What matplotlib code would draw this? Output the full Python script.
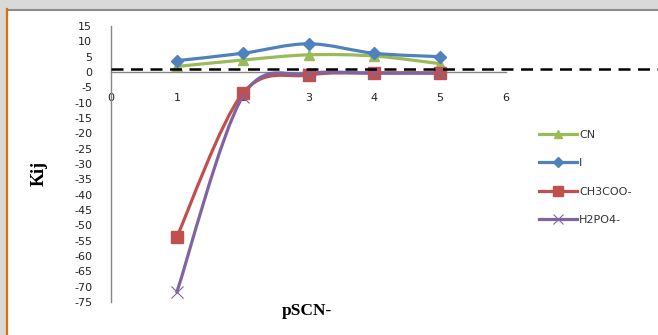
import numpy as np
import matplotlib
matplotlib.use("Agg")
import matplotlib.pyplot as plt
from matplotlib.path import Path
from matplotlib.patches import PathPatch, Rectangle
from matplotlib.lines import Line2D

# ---------------- data ----------------
x_vals = [1, 2, 3, 4, 5]
cn = [1.8, 3.9, 5.6, 5.2, 2.7]
iod = [3.7, 6.1, 9.2, 6.1, 5.0]
ch3coo = [-53.8, -7.0, -1.0, -0.3, -0.3]
h2po4 = [-71.8, -8.0, -0.6, -0.4, -0.4]
ref_level = 1.0
series_names = ["CN", "I", "CH3COO-", "H2PO4-"]
x_ticks = [0, 1, 2, 3, 4, 5, 6]
y_ticks = list(range(-75, 16, 5))

W, H = 658, 335
fig = plt.figure(figsize=(W / 100, H / 100), dpi=100)
fig.patch.set_facecolor("#d9d9d9")

# white chart area with borders
fig.add_artist(Rectangle((7 / W, 0), 1 - 7 / W, (H - 10) / H, transform=fig.transFigure,
                         facecolor="white", edgecolor="none", zorder=0))
fig.add_artist(Line2D([7 / W, 1], [(H - 9.5) / H] * 2, transform=fig.transFigure,
                      color="#8c8c8c", lw=1.5, zorder=1))
fig.add_artist(Line2D([6.5 / W] * 2, [0, (H - 9) / H], transform=fig.transFigure,
                      color="#e36c0a", lw=1.6, zorder=1))

ax = fig.add_axes([111 / W, (H - 302) / H, 395 / W, 276 / H])
ax.set_facecolor("none")
ax.set_xlim(0, 6)
ax.set_ylim(-75, 15)

for s in ["top", "right"]:
    ax.spines[s].set_visible(False)
ax.spines["left"].set_color("#868686")
ax.spines["left"].set_linewidth(1.0)
ax.spines["bottom"].set_position(("data", 0))
ax.spines["bottom"].set_color("#868686")
ax.spines["bottom"].set_linewidth(1.0)

ax.set_xticks(x_ticks)
ax.set_yticks(y_ticks)
ax.set_yticklabels([str(v) for v in y_ticks])
ax.tick_params(axis="both", length=0, labelsize=8, colors="#222222")
ax.tick_params(axis="x", pad=15)
ax.tick_params(axis="y", pad=13.5)


def smooth_path(xs, ys):
    pts = np.column_stack([xs, ys]).astype(float)
    n = len(pts)
    verts = [pts[0]]
    codes = [Path.MOVETO]
    for i in range(n - 1):
        p0 = pts[i - 1] if i > 0 else pts[i]
        p1 = pts[i]
        p2 = pts[i + 1]
        p3 = pts[i + 2] if i + 2 < n else pts[i + 1]
        c1 = p1 + (p2 - p0) / 6.0
        c2 = p2 - (p3 - p1) / 6.0
        verts += [c1, c2, p2]
        codes += [Path.CURVE4] * 3
    return Path(verts, codes)


styles = [
    (cn, "#9bbb59", "^", 7.5),
    (iod, "#4f81bd", "D", 6.5),
    (ch3coo, "#c0504d", "s", 8.5),
    (h2po4, "#8064a2", "x", 8),
]

handles = []
for (vals, col, mk, ms), name in zip(styles, series_names):
    mew = 1.0 if mk != "x" else 0.8
    patch = PathPatch(smooth_path(x_vals, vals), facecolor="none", edgecolor=col,
                      lw=2.3, zorder=3, capstyle="round", joinstyle="round")
    ax.add_patch(patch)
    ax.plot(x_vals, vals, linestyle="none", marker=mk, ms=ms, color=col,
            markeredgecolor=col, markeredgewidth=mew, zorder=4)
    handles.append(Line2D([], [], color=col, lw=2.3, marker=mk, ms=ms * 0.85,
                          markeredgecolor=col, markeredgewidth=mew, label=name))

# dashed reference line extending beyond the plot area
ax.axhline(ref_level, xmin=0, xmax=(W - 111) / 395, color="black", lw=1.8,
           linestyle=(0, (4.8, 3.0)), clip_on=False, zorder=5)

ax.set_ylabel("Kij", fontsize=13, fontweight="bold", family="Liberation Serif",
              labelpad=0)
ax.yaxis.set_label_coords((48 - 111) / 395, (302 - 173) / 276)
ax.set_xlabel("pSCN-", fontsize=12.5, fontweight="bold", family="Liberation Serif")
ax.xaxis.set_label_coords(0.497, -(311 - 302) / 276)
ax.xaxis.label.set_va("center")

leg = fig.legend(handles=handles, loc="upper left",
                 bbox_to_anchor=(539 / W, 1 - 130 / H), frameon=False,
                 fontsize=8, handlelength=3.4, handletextpad=0.2,
                 labelspacing=1.65, borderpad=0, borderaxespad=0)
for t in leg.get_texts():
    t.set_color("#333333")

fig.savefig("out.png", dpi=100, facecolor=fig.get_facecolor())
